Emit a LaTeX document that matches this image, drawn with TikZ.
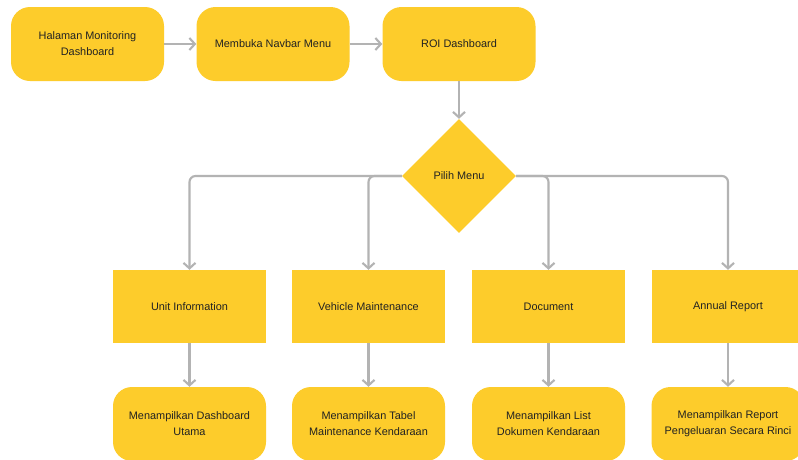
\documentclass[tikz,border=0pt]{standalone}
\usepackage{fontspec}
\setmainfont{Liberation Sans}
\usetikzlibrary{shapes.geometric,arrows.meta}
\definecolor{boxfill}{HTML}{FDCC2B}
\definecolor{linkgray}{HTML}{B3B3B3}
\definecolor{txt}{HTML}{222222}
\tikzset{
  x=1pt, y=-1pt,
  base/.style={fill=boxfill, draw=none, text=txt, font=\fontsize{10.9}{16}\selectfont, align=center, inner sep=0pt},
  roundbox/.style={base, rounded corners=19pt, minimum width=153pt, minimum height=74pt},
  squarebox/.style={base, minimum width=153pt, minimum height=73pt},
  choice/.style={base, diamond, minimum width=114pt, minimum height=114pt},
  link/.style={draw=linkgray, line width=2.1pt, -{Straight Barb[length=5.5pt,width=12pt,line width=2.1pt]}},
}
\begin{document}
\begin{tikzpicture}
\clip (0,0) rectangle (798,459);
\fill[white] (0,0) rectangle (798,459);

% top row
\node[roundbox] (start) at (87.5,44) {Halaman Monitoring\\Dashboard};
\node[roundbox] (navbar) at (273,44) {Membuka Navbar Menu};
\node[roundbox] (roi) at (459,44) {ROI Dashboard};

% decision
\node[choice] (menu) at (459,176) {Pilih Menu};

% menu items
\node[squarebox] (unit) at (189.5,306.5) {Unit Information};
\node[squarebox] (vehicle) at (368.5,306.5) {Vehicle Maintenance};
\node[squarebox] (doc) at (548.5,306.5) {Document};
\node[squarebox] (annual) at (728,306.5) {Annual Report};

% results
\node[roundbox] (r1) at (189.5,424) {Menampilkan Dashboard\\Utama};
\node[roundbox] (r2) at (368.5,424) {Menampilkan Tabel\\Maintenance Kendaraan};
\node[roundbox] (r3) at (548.5,424) {Menampilkan List\\Dokumen Kendaraan};
\node[roundbox] (r4) at (728,424) {Menampilkan Report\\Pengeluaran Secara Rinci};

% connectors
\draw[link] (start) -- (navbar);
\draw[link] (navbar) -- (roi);
\draw[link] (roi) -- (menu);
\draw[link, rounded corners=6pt] (menu.west) -| (unit.north);
\draw[link, rounded corners=6pt] (menu.west) -| (vehicle.north);
\draw[link, rounded corners=6pt] (menu.east) -| (doc.north);
\draw[link, rounded corners=6pt] (menu.east) -| (annual.north);
\draw[link] (unit) -- (r1);
\draw[link] (vehicle) -- (r2);
\draw[link] (doc) -- (r3);
\draw[link] (annual) -- (r4);
\end{tikzpicture}
\end{document}
